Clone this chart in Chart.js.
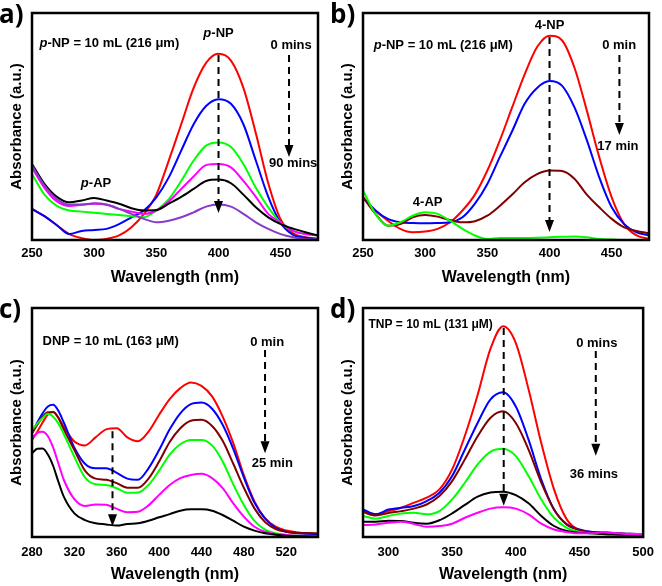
<!DOCTYPE html>
<html><head><meta charset="utf-8">
<script src="https://cdn.jsdelivr.net/npm/chart.js@4"></script>
<style>
html,body{margin:0;padding:0;background:#fff;}
#wrap{position:relative;width:662px;height:586px;background:#fff;}
canvas{position:absolute;}
</style></head><body>
<div id="wrap">
<canvas id="ca" width="331" height="293" style="left:0;top:0"></canvas>
<canvas id="cb" width="331" height="293" style="left:331px;top:0"></canvas>
<canvas id="cc" width="331" height="293" style="left:0;top:293px"></canvas>
<canvas id="cd" width="331" height="293" style="left:331px;top:293px"></canvas>
</div>
<script>
// ---------- Panel a: p-NP, 0 -> 90 mins ----------
const waveA = [250,260,270,280,290,300,310,320,330,340,350,360,370,380,390,400,410,420,430,440,450,460,470,480];
const aRed     = [13.7,10.5,6.5,2.6,0.8,0,0.5,2,5.6,11.5,20,35,51,67,78,82,79,67,47,25,9,3,1.2,0.5];
const aBlue    = [13.7,10.5,6.5,2.6,4,4.4,4.9,7,10,13,18.8,27.6,39.4,51,59,62,60,51,35,19,7.5,2.2,1,0.5];
const aGreen   = [29,20,15,13,12.5,12,11.5,11,10.5,10,13,18,26,35,41.6,43,41,33.5,23,14.4,7.5,4,2.6,2];
const aMagenta = [32,23,17,15,15.5,16,15.5,13.7,12.5,11.5,13,17,22.5,28,33,33.5,32,26,19,11.5,7.5,4,2.6,2];
const aBlack   = [33.5,24.7,19,16.6,17.4,18.5,17.4,16,14,13,13.2,16,19,22.5,26,26.6,25,20,14.4,10,7,5,3.4,2];
const aPurple  = [32.8,24,18,15.6,15.6,16.2,15.6,13.7,11.5,9.3,7.8,8.5,10,12.2,14.7,15.6,14.7,11.5,7.8,4.9,2.6,1.2,0.4,0.3];

// ---------- Panel b: 4-NP, 0 -> 17 min ----------
const waveB = [250,260,270,280,290,300,310,320,330,340,350,360,370,380,390,400,410,420,430,440,450,460,470,480];
const bRed   = [18.8,13,8.5,4.9,3.4,3.7,4.9,7.8,13,20,30.6,43.8,58.5,73,85,90,88,76,57,36.5,18.8,7,2,0.5];
const bBlue  = [18.8,13,9.3,7.8,7.5,7.4,7.5,7.8,10,16,24.7,36.5,48,60,67,70,68,58.5,44,27.6,14.4,7,3.4,2];
const bBrown = [18.8,11.5,6.3,7,10,11,10.3,8.8,7.8,8.3,10.7,15,20,25.4,29,30.6,30.4,27,20,14.4,9.3,5.6,4,3];
const bGreen = [21.8,11.5,6.3,7.8,10.7,12.2,11.5,8.5,4.9,2,0.4,0.9,0.9,0.9,1,1.2,1.4,1.5,1.2,0.4,0.2,0,0,0];

// ---------- Panel c: DNP, 0 -> 25 min ----------
const waveC = [280,285,290,295,300,305,310,320,330,340,350,360,370,380,390,400,410,420,430,440,450,460,470,480,490,500,510,520,530,540,550];
const cRed     = [42.4,46,50,53.5,54.7,52,48,41.7,40,43.5,47,47.5,43.5,41.8,46,53.4,60.2,65,67.5,66,61.4,52.6,41,27,15.5,8.2,4.5,2.8,2,1.6,1.3];
const cBlue    = [45.5,50,54,57,57.7,55,50,39,32,30,30,28,25.5,25,30,38,47,54,58,58.7,56,49,38.5,26,15,8,4,2.3,1.6,1.2,0.9];
const cBrown   = [45.3,49,52.5,54.5,54.5,52,47,38,29,25.5,25,23.5,21.5,21.5,25.5,33,41.5,47.5,50.8,51.2,48.5,42,32,21.5,12.5,6.5,3.5,2.3,1.9,1.7,1.6];
const cGreen   = [46.8,49.5,52,53.8,52.5,49.5,45,35,26,23,22.7,21.3,19.3,19.4,22.7,29,36,40.5,42.4,42.4,40,33,23,14,7,3.2,1.6,0.9,0.6,0.5,0.4];
const cMagenta = [43,45.5,46,44,39,32,25,16.5,13.5,14.2,14.1,12.3,10.8,11,13.8,18.4,22.7,25.7,27.1,27.6,25.7,21.3,14.7,8.9,4.5,2.3,1.3,0.9,0.6,0.5,0.4];
const cBlack   = [36.6,38.5,38.6,36,31,24,17.6,10.3,7.4,6,5.5,5,5.7,6,7.1,8.6,10,11.5,12.1,12.1,11.5,9.6,7.1,4.5,2.8,1.6,1,0.6,0.3,0.2,0.1];

// ---------- Panel d: TNP, 0 -> 36 mins ----------
const waveD = [280,290,300,310,320,330,340,350,360,370,380,390,400,410,420,430,440,450,460,470,480,490,500];
const dRed     = [11.3,9.9,11.3,12.8,15,17.2,20.8,29.5,44.2,62,82,92,84.7,64.5,41,20.8,7.7,3,2.2,1.9,1.6,1.4,1.2];
const dBlue    = [12,9.9,12,12.8,13.5,15.7,19.3,26.6,38.2,49.8,60,63.2,57,42.5,25.1,12,5.5,3.3,2.2,1.9,1.6,1.4,1.2];
const dBrown   = [10.9,9.4,10.5,11.3,12.4,14.2,17.9,24.4,33.9,44,52,54.9,49.8,38.2,23.7,12,5.5,3,1.9,1.6,1.4,1.3,1.2];
const dGreen   = [9.2,8,9.2,10.3,10.6,9.9,11.3,16.4,23.7,31.7,37.2,38.5,35.3,26.6,16.4,8.4,4,2.2,1.6,1.5,1.4,1.3,1.2];
const dBlack   = [6.7,6.7,7.1,7,6.2,5.8,7.3,10.3,14,17.6,19.4,19.8,18.3,14.7,9.2,4.8,2.6,1.9,1.6,1.2,1,0.8,0.7];
const dMagenta = [5.2,5.5,6.2,6.7,5.7,4.5,4.8,5.8,8.4,10.6,12.4,13,12.4,9.9,5.8,3.3,2.2,1.6,1.6,2.2,1.6,1.2,0.9];

const FONT = "'Liberation Sans', Arial, sans-serif";
const RED='#FF0000', BLUE='#0000FF', GREEN='#00FF00', MAG='#FF00FF', BLK='#000000', PURP='#8A3AC8', BROWN='#800000';

function series(wave, vals, color){
  return { data: wave.map((w,i)=>({x:w, y:vals[i]})), borderColor: color, backgroundColor: color,
           borderWidth: 2, pointRadius: 0, cubicInterpolationMode: 'monotone', fill: false };
}

function deco(spec){
  return { id: 'deco', afterDraw(chart){
    const {ctx, chartArea: ca, scales} = chart; const X = scales.x, Y = scales.y;
    ctx.save();
    ctx.lineWidth = 2.5; ctx.strokeStyle = '#000'; ctx.setLineDash([]);
    ctx.strokeRect(ca.left, ca.top, ca.right - ca.left, ca.bottom - ca.top);
    ctx.fillStyle = '#000';
    spec.arrows.forEach(a => {
      const px = X.getPixelForValue(a.x), y1 = Y.getPixelForValue(a.y1), y2 = Y.getPixelForValue(a.y2);
      ctx.lineWidth = 2; ctx.setLineDash([7,5]);
      ctx.beginPath(); ctx.moveTo(px, y1); ctx.lineTo(px, y2 - 10); ctx.stroke();
      ctx.setLineDash([]);
      ctx.beginPath(); ctx.moveTo(px - 4.5, y2 - 12); ctx.lineTo(px + 4.5, y2 - 12); ctx.lineTo(px, y2); ctx.closePath(); ctx.fill();
    });
    spec.texts.forEach(t => {
      const size = t.size || 13;
      const fonts = t.parts.map(p => (p[1] ? 'italic ' : '') + 'bold ' + size + 'px ' + FONT);
      let total = 0; const widths = t.parts.map((p,i) => { ctx.font = fonts[i]; const w = ctx.measureText(p[0]).width; total += w; return w; });
      let px = X.getPixelForValue(t.x); const py = Y.getPixelForValue(t.y);
      if (t.align === 'center') px -= total / 2;
      ctx.textBaseline = 'middle'; ctx.textAlign = 'left';
      t.parts.forEach((p,i) => { ctx.font = fonts[i]; ctx.fillText(p[0], px, py); px += widths[i]; });
    });
    ctx.font = "bold 26px 'Open Sans', " + FONT; ctx.textAlign = 'left'; ctx.textBaseline = 'middle';
    ctx.fillText(spec.label, -1, spec.labelY);
    ctx.restore();
  }};
}

function makePanel(id, o){
  new Chart(document.getElementById(id), {
    type: 'line',
    data: { datasets: o.datasets },
    options: {
      responsive: false, animation: false, events: [],
      layout: { padding: { top: o.top, right: 13, left: 0, bottom: 0 } },
      plugins: { legend: { display: false }, tooltip: { enabled: false } },
      scales: {
        x: { type: 'linear', min: o.xmin, max: o.xmax,
             afterFit: s => { s.height = o.xh; },
             grid: { display: false, drawTicks: false }, border: { display: false },
             ticks: { stepSize: o.step, includeBounds: false, color: '#000', padding: o.tickPad,
                      font: { family: FONT, size: 13, weight: 'bold' }, maxRotation: 0 },
             title: { display: true, text: 'Wavelength (nm)', color: '#000',
                      font: { family: FONT, size: 16, weight: 'bold' }, padding: { top: 0, bottom: o.titlePad } } },
        y: { min: 0, max: 100,
             afterFit: s => { s.width = 32; },
             grid: { display: false, drawTicks: false }, border: { display: false },
             ticks: { display: false },
             title: { display: true, text: 'Absorbance (a.u.)', color: '#000',
                      font: { family: FONT, size: 15, weight: 'bold' }, padding: { top: 8, bottom: 0 } } }
      }
    },
    plugins: [deco(o.deco)]
  });
}

makePanel('ca', {
  top: 13, xh: 53, xmin: 250, xmax: 480, step: 50, tickPad: 6, titlePad: 6,
  datasets: [series(waveA,aPurple,PURP), series(waveA,aBlack,BLK), series(waveA,aMagenta,MAG),
             series(waveA,aGreen,GREEN), series(waveA,aBlue,BLUE), series(waveA,aRed,RED)],
  deco: { label: 'a)', labelY: 16,
    arrows: [{x:400, y1:81.5, y2:11.9}, {x:456.7, y1:81.5, y2:36.6}],
    texts: [
      {x:256, y:86.8, align:'left', parts:[['p',true],['-NP = 10 mL (216 \u03bcm)',false]]},
      {x:400, y:91.2, align:'center', parts:[['p',true],['-NP',false]]},
      {x:458.4, y:85.9, align:'center', parts:[['0 mins',false]]},
      {x:460, y:33.9, align:'center', parts:[['90 mins',false]]},
      {x:301.5, y:25.1, align:'center', parts:[['p',true],['-AP',false]]}
    ] }
});

makePanel('cb', {
  top: 13, xh: 53, xmin: 250, xmax: 480, step: 50, tickPad: 6, titlePad: 6,
  datasets: [series(waveB,bGreen,GREEN), series(waveB,bBrown,BROWN), series(waveB,bBlue,BLUE), series(waveB,bRed,RED)],
  deco: { label: 'b)', labelY: 16,
    arrows: [{x:400, y1:89.4, y2:3.5}, {x:456.2, y1:81.5, y2:46.3}],
    texts: [
      {x:258.6, y:85.9, align:'left', parts:[['p',true],['-NP = 10 mL (216 \u03bcM)',false]]},
      {x:400, y:94.7, align:'center', parts:[['4-NP',false]]},
      {x:456, y:85.9, align:'center', parts:[['0 min',false]]},
      {x:455, y:41.4, align:'center', parts:[['17 min',false]]},
      {x:302, y:16.7, align:'center', parts:[['4-AP',false]]}
    ] }
});

makePanel('cc', {
  top: 15, xh: 49, xmin: 280, xmax: 550, step: 40, tickPad: 8, titlePad: 2,
  datasets: [series(waveC,cBlack,BLK), series(waveC,cMagenta,MAG), series(waveC,cGreen,GREEN),
             series(waveC,cBrown,BROWN), series(waveC,cBlue,BLUE), series(waveC,cRed,RED)],
  deco: { label: 'c)', labelY: 18,
    arrows: [{x:500, y1:81.7, y2:36.6}, {x:356, y1:46.2, y2:4.7}],
    texts: [
      {x:290, y:85.6, align:'left', parts:[['DNP = 10 mL (163 \u03bcM)',false]]},
      {x:502, y:85.1, align:'center', parts:[['0 min',false]]},
      {x:506.8, y:32.2, align:'center', parts:[['25 min',false]]}
    ] }
});

makePanel('cd', {
  top: 15, xh: 49, xmin: 280, xmax: 500, step: 50, tickPad: 8, titlePad: 2,
  datasets: [series(waveD,dMagenta,MAG), series(waveD,dBlack,BLK), series(waveD,dGreen,GREEN),
             series(waveD,dBrown,BROWN), series(waveD,dBlue,BLUE), series(waveD,dRed,RED)],
  deco: { label: 'd)', labelY: 18,
    arrows: [{x:390.5, y1:91.3, y2:13.6}, {x:462.8, y1:81.2, y2:35.5}],
    texts: [
      {x:284.3, y:92.6, align:'left', size:12, parts:[['TNP = 10 mL (131 \u03bcM)',false]]},
      {x:463.6, y:84.7, align:'center', parts:[['0 mins',false]]},
      {x:461.3, y:27.2, align:'center', parts:[['36 mins',false]]}
    ] }
});
</script>
</body></html>
